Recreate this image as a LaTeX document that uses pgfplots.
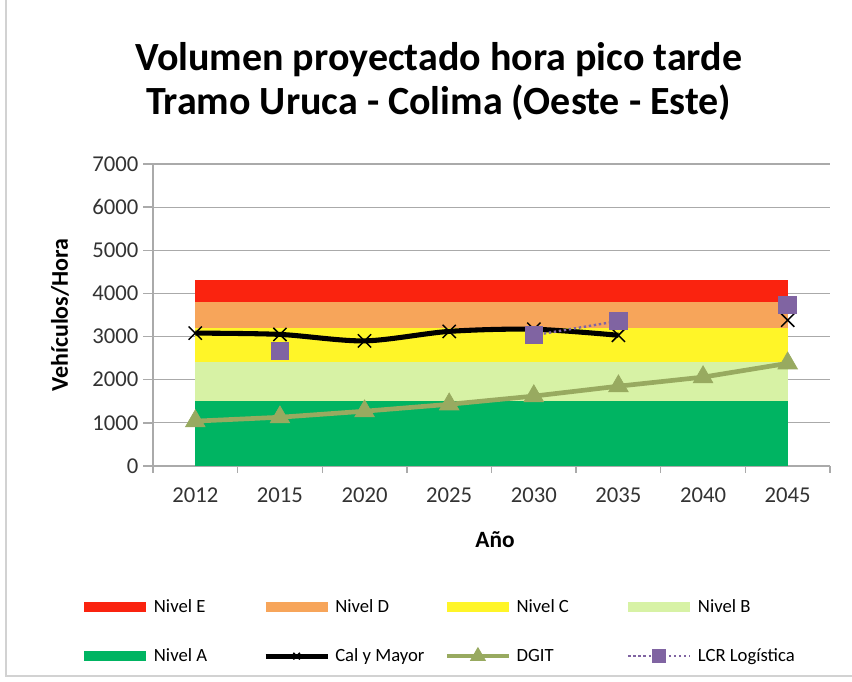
\documentclass[border=0pt]{standalone}
\usepackage{fontspec}
\setmainfont{Carlito}
\usepackage{pgfplots}
\pgfplotsset{compat=1.18}
\definecolor{nivE}{RGB}{250,35,15}
\definecolor{nivD}{RGB}{247,165,90}
\definecolor{nivC}{RGB}{255,245,40}
\definecolor{nivB}{RGB}{215,242,165}
\definecolor{nivA}{RGB}{0,180,98}
\definecolor{dgit}{RGB}{152,170,96}
\definecolor{lcr}{RGB}{128,100,162}
\definecolor{axgray}{RGB}{170,170,170}
\pgfplotsset{
  bandleg/.style={legend image code/.code={\draw[line width=7.5pt, #1] (0pt,0pt) -- (46.5pt,0pt);}},
  lineleg/.style={legend image code/.code={\draw[mark repeat=2,mark phase=2,##1,mark size=#1] plot coordinates {(0pt,0pt) (23.25pt,0pt) (46.5pt,0pt)};}},
}
\begin{document}
\begin{tikzpicture}
\path[use as bounding box] (0,0) rectangle (639pt,510.75pt);
\draw[gray!35, line width=1pt] (4.5pt,510.75pt) -- (4.5pt,3.75pt) -- (639pt,3.75pt);
\node[font=\bfseries\fontsize{30}{34}\selectfont] at (329pt,465.75pt) {Volumen proyectado hora pico tarde};
\node[font=\bfseries\fontsize{30}{34}\selectfont] at (329pt,433.5pt) {Tramo Uruca - Colima (Oeste - Este)};
\node[font=\bfseries\fontsize{18}{20}\selectfont, rotate=90] at (45pt,274.5pt) {Vehículos/Hora};
\node[font=\bfseries\fontsize{17.5}{20}\selectfont] at (371.25pt,105.75pt) {Año};
\begin{axis}[
  at={(114.75pt,161.25pt)}, anchor=south west,
  scale only axis, width=507.75pt, height=226.5pt,
  xmin=-0.5, xmax=7.5, ymin=0, ymax=7000,
  axis lines*=left,
  axis line style={draw=axgray, line width=1pt},
  xtick={0,...,7},
  xticklabels={2012,2015,2020,2025,2030,2035,2040,2045},
  minor xtick={-0.5,0.5,...,7.5},
  ytick={0,1000,...,7000},
  tick align=outside,
  major tick length=7.5pt,
  minor tick length=5pt,
  x tick style={draw=none},
  minor x tick style={draw=axgray, line width=1pt},
  y tick style={draw=axgray, line width=1pt},
  ymajorgrids,
  grid style={draw=axgray, line width=0.9pt},
  /pgf/number format/assume math mode=true,
  /pgf/number format/1000 sep={},
  tick label style={font=\fontsize{17}{19}\selectfont, text=black!80},
  xticklabel style={yshift=-5pt},
  unbounded coords=jump,
  legend columns=4,
  legend style={at={(-0.1093,-0.433)}, anchor=north west, draw=none, fill=none,
    inner sep=0pt, font=\fontsize{14}{16}\selectfont, row sep=21.5pt,
    nodes={inner sep=2pt},
    /tikz/every even column/.append style={column sep=4pt}},
]
\addplot[fill=nivE, draw=none, forget plot] coordinates {(0,3800) (7,3800) (7,4300) (0,4300)} -- cycle;
\addplot[fill=nivD, draw=none, forget plot] coordinates {(0,3200) (7,3200) (7,3800) (0,3800)} -- cycle;
\addplot[fill=nivC, draw=none, forget plot] coordinates {(0,2400) (7,2400) (7,3200) (0,3200)} -- cycle;
\addplot[fill=nivB, draw=none, forget plot] coordinates {(0,1500) (7,1500) (7,2400) (0,2400)} -- cycle;
\addplot[fill=nivA, draw=none, forget plot] coordinates {(0,0) (7,0) (7,1500) (0,1500)} -- cycle;
\addlegendimage{bandleg=nivE}
\addlegendentry{\makebox[74pt][l]{Nivel E}}
\addlegendimage{bandleg=nivD}
\addlegendentry{\makebox[74pt][l]{Nivel D}}
\addlegendimage{bandleg=nivC}
\addlegendentry{\makebox[74pt][l]{Nivel C}}
\addlegendimage{bandleg=nivB}
\addlegendentry{\makebox[74pt][l]{Nivel B}}
\addlegendimage{bandleg=nivA}
\addlegendentry{\makebox[74pt][l]{Nivel A}}
\addplot[dgit, line width=3.5pt, mark=triangle*, mark size=8.5pt, mark options={line width=0.5pt}, forget plot]
  coordinates {(0,1040) (1,1130) (2,1270) (3,1430) (4,1620) (5,1850) (6,2060) (7,2380)};
\addplot[black, line width=3.8pt, smooth, mark=x, mark size=7pt, mark options={line width=1.1pt}, lineleg=3.5pt]
  coordinates {(0,3080) (1,3050) (2,2900) (3,3120) (4,3170) (5,3030) (6,nan) (7,3380)};
\addlegendentry{\makebox[74pt][l]{Cal y Mayor}}
\addlegendimage{dgit, line width=3.5pt, mark=triangle*, lineleg=3.5pt}
\addlegendentry{\makebox[74pt][l]{DGIT}}
\addplot[lcr, line width=1.8pt, dotted, mark=square*, mark size=6pt, mark options={solid}, lineleg=4.5pt]
  coordinates {(0,nan) (1,2660) (2,nan) (3,nan) (4,3030) (5,3360) (6,nan) (7,3730)};
\addlegendentry{\makebox[74pt][l]{LCR Logística}}
\end{axis}
\end{tikzpicture}
\end{document}
